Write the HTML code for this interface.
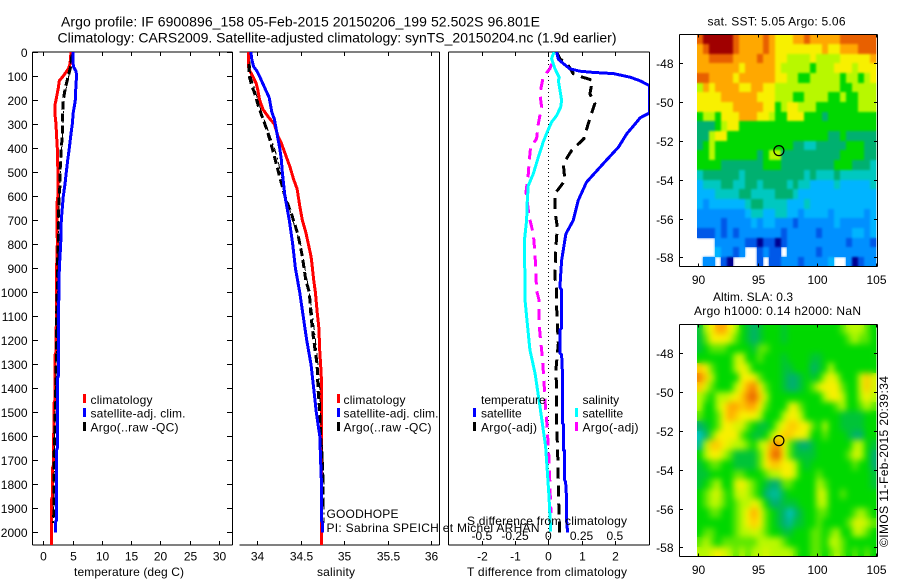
<!DOCTYPE html>
<html lang="en">
<head>
<meta charset="utf-8">
<title>Argo profile chart</title>
<style>
html,body{margin:0;padding:0;background:#fff;width:900px;height:580px;overflow:hidden}
svg{display:block}
text{font-family:"Liberation Sans",sans-serif;font-size:12px;fill:#000}
.title{font-size:14px}
</style>
</head>
<body>
<svg id="chart" xmlns="http://www.w3.org/2000/svg" width="900" height="580" viewBox="0 0 900 580">
<defs>
<clipPath id="clip-temp"><rect x="33" y="52" width="199" height="493"/></clipPath>
<clipPath id="clip-sal"><rect x="240" y="52" width="199" height="493"/></clipPath>
<clipPath id="clip-diff"><rect x="449" y="52" width="200" height="493"/></clipPath>
<filter id="smooth-sla" filterUnits="userSpaceOnUse" x="697" y="325" width="180" height="232" color-interpolation-filters="sRGB">
<feGaussianBlur in="SourceGraphic" stdDeviation="3.2" result="soft"/>
<feMerge><feMergeNode in="SourceGraphic"/><feMergeNode in="soft"/></feMerge>
</filter>
<filter id="smooth-sst" filterUnits="userSpaceOnUse" x="697" y="35" width="180" height="232" color-interpolation-filters="sRGB">
<feGaussianBlur in="SourceGraphic" stdDeviation="1" result="soft"/>
<feMerge><feMergeNode in="SourceGraphic"/><feMergeNode in="soft"/></feMerge>
</filter>
</defs>
<g id="map-sst" filter="url(#smooth-sst)"></g>
<g id="map-sla" filter="url(#smooth-sla)"></g>
<g id="axes"></g>
<g id="series-temp" clip-path="url(#clip-temp)"></g>
<g id="series-sal" clip-path="url(#clip-sal)"></g>
<g id="series-diff" clip-path="url(#clip-diff)"></g>
<g id="labels"></g>

<text class="title" x="61" y="26.5" textLength="479" lengthAdjust="spacing">Argo profile: IF 6900896_158 05-Feb-2015 20150206_199 52.502S 96.801E</text>
<text class="title" x="57.5" y="42.5" textLength="559" lengthAdjust="spacing">Climatology: CARS2009. Satellite-adjusted climatology: synTS_20150204.nc (1.9d earlier)</text>

<text x="74" y="576" textLength="110">temperature (deg C)</text>
<text x="317" y="576" textLength="38">salinity</text>
<text x="467" y="576" textLength="160">T difference from climatology</text>
<text x="467" y="525" textLength="160">S difference from climatology</text>

<g>
<rect x="83" y="394" width="3" height="9" fill="#f00"/><text x="90.5" y="404" textLength="62">climatology</text>
<rect x="83" y="408" width="3" height="9" fill="#00f"/><text x="90.5" y="417.5" textLength="95">satellite-adj. clim.</text>
<rect x="83" y="422" width="3" height="9" fill="#000"/><text x="90.5" y="431.5" textLength="88">Argo(..raw -QC)</text>
</g>
<g>
<rect x="337" y="394" width="3" height="9" fill="#f00"/><text x="343.5" y="404" textLength="62">climatology</text>
<rect x="337" y="408" width="3" height="9" fill="#00f"/><text x="343.5" y="417.5" textLength="95">satellite-adj. clim.</text>
<rect x="337" y="422" width="3" height="9" fill="#000"/><text x="343.5" y="431.5" textLength="88">Argo(..raw -QC)</text>
</g>
<g>
<text x="481" y="404">temperature</text>
<rect x="473" y="408" width="3" height="9" fill="#00f"/><text x="481" y="417.5">satellite</text>
<rect x="473" y="422" width="3" height="9" fill="#000"/><text x="481" y="431.5" textLength="56">Argo(-adj)</text>
<text x="582.5" y="404">salinity</text>
<rect x="575" y="408" width="3" height="9" fill="#0ff"/><text x="582.5" y="417.5">satellite</text>
<rect x="575" y="422" width="3" height="9" fill="#f0f"/><text x="582.5" y="431.5" textLength="56">Argo(-adj)</text>
</g>

<text x="326.5" y="518" textLength="72">GOODHOPE</text>
<text x="326.5" y="532" textLength="213">PI: Sabrina SPEICH et Michel ARHAN</text>

<text x="707.5" y="25.7" textLength="138">sat. SST: 5.05 Argo: 5.06</text>
<text x="713" y="301" textLength="80">Altim. SLA: 0.3</text>
<text x="694" y="315" textLength="167">Argo h1000: 0.14 h2000: NaN</text>
<text transform="translate(888,547) rotate(-90)" textLength="171">©IMOS 11-Feb-2015 20:39:34</text>
</svg>

<script>
// ---- Profile data (depth in dbar) ----
const climTempDepth = [0,50,70,80,100,120,150,200,220,260,300,350,400,500,600,630,800,900,1000,1250,1260,1450,1460,1720,1730,1850,1860,2052];
const climTempValue = [4.73,4.56,4.27,3.99,3.41,2.73,2.56,2.17,2.0,2.0,2.17,2.27,2.39,2.5,2.5,2.34,2.39,2.27,2.27,2.17,2.0,2.0,1.83,1.75,1.6,1.6,1.43,1.43];
const satTempDepth = [0,60,80,100,130,200,220,250,300,340,400,450,500,550,600,650,700,800,900,1000,1100,1350,1360,1650,1660,1950,1960,2000];
const satTempValue = [5.07,5.13,5.58,5.7,5.58,5.46,5.35,5.13,4.95,4.73,4.44,4.16,3.93,3.7,3.41,3.24,3.08,2.97,2.73,2.68,2.56,2.56,2.39,2.39,2.22,2.22,2.05,2.05];
const argoTempDepth = [10,60,100,150,200,250,300,350,400,450,500,550,600,700,800,900,1000,1100,1300,1500,1700,1900,1960];
const argoTempValue = [4.9,4.67,4.27,3.76,3.41,3.3,3.3,3.24,3.08,2.97,2.85,2.85,2.73,2.56,2.56,2.39,2.39,2.27,2.22,2.05,1.83,1.83,1.75];
const rawTempDepth = [20,100,200,300,400,500,600,700,800,1000,1200,1400,1600,1800,1960];
const rawTempValue = [4.8,4.35,3.5,3.4,3.15,2.9,2.75,2.6,2.55,2.4,2.25,2.1,1.95,1.85,1.75];

const climSalDepth = [0,60,80,100,130,160,200,240,270,300,350,380,420,480,530,570,640,700,750,800,850,880,950,1000,1080,1150,1250,1300,1370,1800,2052];
const climSalValue = [33.90,33.90,33.92,33.95,33.99,34.01,34.03,34.07,34.13,34.20,34.24,34.28,34.32,34.38,34.42,34.46,34.49,34.52,34.56,34.59,34.62,34.63,34.65,34.67,34.69,34.71,34.72,34.73,34.74,34.74,34.74];
const satSalDepth = [0,30,60,80,110,150,190,250,280,340,400,450,500,600,700,800,900,1000,1100,1200,1300,1400,1500,1600,1700,1800,1950,1960,2000];
const satSalValue = [33.93,33.94,33.96,34.00,34.04,34.09,34.14,34.17,34.20,34.23,34.26,34.28,34.29,34.32,34.37,34.41,34.44,34.49,34.53,34.57,34.62,34.65,34.68,34.72,34.73,34.74,34.74,34.75,34.75];
const argoSalDepth = [50,100,140,180,230,280,320,380,450,520,600,680,760,850,950,1000,1100,1200,1300,1400,1500,1600,1700,1800,1900];
const argoSalValue = [33.91,33.91,33.94,33.98,34.02,34.07,34.11,34.16,34.21,34.26,34.32,34.40,34.47,34.52,34.56,34.60,34.62,34.65,34.69,34.70,34.72,34.73,34.75,34.76,34.76];
const rawSalDepth = [40,100,150,200,250,300,350,400,450,500,600,700,800,900,1000,1100,1200,1300,1400,1500,1600,1700,1800,1900,1960];
const rawSalValue = [33.92,33.93,33.97,34.01,34.05,34.10,34.15,34.20,34.24,34.27,34.33,34.41,34.50,34.55,34.60,34.64,34.67,34.70,34.72,34.73,34.74,34.76,34.77,34.77,34.77];

const dTsatDepth = [0,30,50,70,80,85,90,105,120,140,254,274,292,340,396,465,542,618,701,757,868,979,991,1150,1157,1254,1260,1350,1545,1550,1657,1660,1782,1790,1860,1950,2000];
const dTsatValue = [0.25,0.30,0.47,0.65,0.95,1.35,1.96,2.46,2.76,3.04,3.04,2.76,2.66,2.36,2.11,1.65,1.15,0.90,0.75,0.53,0.40,0.35,0.40,0.40,0.35,0.35,0.40,0.43,0.43,0.45,0.45,0.49,0.49,0.52,0.55,0.55,0.58];
const dTargoDepth = [0,28,56,90,101,118,174,215,299,361,410,465,535,590,660,729,813,938,993,1060,1130,1213,1324,1407,1545,1657,1782,1865,1948,2000];
const dTargoValue = [0.25,0.35,0.6,0.75,0.95,1.33,1.25,1.40,1.20,1.07,0.70,0.45,0.50,0.20,0.20,0.27,0.23,0.20,0.25,0.25,0.27,0.30,0.23,0.25,0.25,0.28,0.30,0.31,0.33,0.33];
const dSsatDepth = [0,28,69,107,118,160,201,229,264,292,333,375,438,507,556,618,701,785,979,1032,1130,1240,1337,1448,1545,1642,1740,1851,1997];
const dSsatValue = [0.043,0.025,0.05,0.083,0.075,0.088,0.10,0.093,0.063,0.025,-0.008,-0.038,-0.075,-0.113,-0.15,-0.158,-0.163,-0.18,-0.175,-0.175,-0.158,-0.138,-0.10,-0.07,-0.045,-0.02,-0.008,0.005,0.018];
const dSargoDepth = [49,69,104,174,229,299,361,396,451,507,583,688,757,840,924,993,1032,1116,1171,1268,1365,1462,1531,1642,1725,1822,1920];
const dSargoValue = [0.025,0.013,-0.038,-0.063,-0.05,-0.075,-0.088,-0.133,-0.143,-0.15,-0.168,-0.143,-0.113,-0.10,-0.093,-0.088,-0.07,-0.07,-0.063,-0.045,-0.033,-0.023,-0.013,0,0.008,0.013,0.02];

// ---- Tick labels ----
const depthTicks = [0,100,200,300,400,500,600,700,800,900,1000,1100,1200,1300,1400,1500,1600,1700,1800,1900,2000];
const tempTicks = [0,5,10,15,20,25,30];
const salTicks = [34,34.5,35,35.5,36];
const dTTicks = [-2,-1,0,1,2];
const dSTicks = [-0.5,-0.25,0,0.25,0.5];
const lonTicks = [90,95,100,105];
const latTicks = [-48,-50,-52,-54,-56,-58];

// ---- Profile location ----
const argoLon = [96.801];
const argoLat = [-52.502];

// ---- Map values: colour-level per 0.5 degree cell ----
const sstGrid = [
[10,11,11,11,11,11,10,9,9,9,9,10,9,8,8,8,9,9,10,9,9,9,9,9,10,10,10,10,10,10],
[9,10,11,11,11,11,10,9,9,9,9,10,9,8,8,8,8,8,8,8,8,9,8,8,9,9,9,10,10,10],
[9,9,10,10,10,10,9,9,9,9,10,9,9,8,8,7,7,7,7,8,7,7,7,7,8,8,8,8,8,9],
[9,9,9,9,9,9,9,8,9,9,9,9,9,8,7,7,7,7,7,6,7,7,7,8,8,8,7,8,8,8],
[10,10,9,9,9,9,8,9,9,9,9,9,9,8,8,7,7,6,6,7,7,7,7,7,6,7,7,6,7,8],
[7,9,8,9,9,9,9,8,8,9,9,8,8,7,7,7,7,7,7,7,7,7,7,7,6,6,7,7,7,7],
[8,8,8,8,9,9,9,9,9,9,8,8,8,7,7,7,6,6,7,7,7,7,6,6,7,6,6,7,7,7],
[8,8,8,8,8,8,9,9,9,9,9,8,8,6,7,8,8,7,7,7,6,6,6,6,6,6,6,7,7,7],
[6,7,7,6,8,8,8,9,9,9,8,8,7,6,6,8,8,8,6,6,6,5,6,6,6,6,6,6,6,6],
[5,5,5,6,7,8,8,6,6,6,6,6,6,6,6,6,6,6,6,6,6,6,6,6,6,6,6,6,6,6],
[5,5,7,8,8,6,6,6,6,6,6,6,6,6,6,6,6,6,6,6,6,6,5,5,6,5,5,5,5,5],
[5,6,7,6,6,6,6,6,6,6,6,6,6,6,6,6,5,5,4,4,5,5,5,5,5,6,6,6,5,5],
[6,6,7,6,6,6,6,6,6,6,5,6,7,7,5,5,5,5,5,5,5,5,5,5,6,6,6,6,5,5],
[6,6,6,6,5,5,5,5,5,5,5,6,6,6,5,5,5,5,5,5,5,5,5,6,6,6,5,5,5,4],
[4,5,5,5,5,5,5,4,5,5,5,5,5,5,5,5,5,5,4,5,4,4,4,5,4,4,4,4,4,4],
[3,4,4,4,5,5,4,4,5,5,4,5,5,5,5,4,5,4,4,3,3,3,3,4,3,3,3,3,3,4],
[3,3,3,4,4,4,4,5,5,4,4,4,4,5,5,5,4,3,3,3,3,3,3,3,3,3,3,3,3,3],
[3,2,3,3,3,3,3,3,4,5,5,4,4,4,4,3,3,3,4,3,3,3,3,3,3,3,3,3,3,3],
[2,2,2,2,2,2,2,2,3,4,4,3,3,4,4,3,3,2,3,3,3,3,2,3,3,3,3,3,2,3],
[2,2,2,2,1,2,2,2,2,3,2,3,3,2,2,2,1,2,2,2,2,2,2,3,2,2,2,2,2,3],
[1,1,1,2,1,2,1,2,2,2,2,2,2,2,1,2,2,2,2,2,1,2,2,2,2,2,3,3,2,3],
[null,null,null,2,2,2,2,2,1,1,0,1,1,0,1,2,2,2,2,2,2,2,2,2,2,1,2,2,2,1],
[null,null,null,3,2,2,1,2,null,null,1,2,1,1,null,2,2,2,2,2,1,2,2,2,2,2,2,2,2,2],
[null,2,2,null,1,0,null,null,null,null,1,null,1,1,2,2,2,1,2,2,2,2,3,null,null,2,0,1,2,2]
];
const slaGrid = [
[5.5,7,8,9,9,8,7,6,5.5,5,5.5,6,6,6,5.5,6,6,6,6,6,6,6,6,6,6.5,7,7,7,6.5,6],
[5.5,6.5,8,8,8,7.5,6.5,6,5.5,5,5.5,6,6,6,5.5,6,6,6,6,6,6,6,6,6,6,6.5,7,6.5,6.5,6],
[5.5,6,6.5,6.5,6.5,6,6,6,6,5.5,6.5,6.5,6,6,6,6,6,6,6,6,6,6,6,6,6,6,6,6,6,6],
[6,6,6,6,6,6,7,7.5,6,6,6.5,6,6,6,5.5,6,6,6,6,5.5,5.5,6,6,6,6,6,6,6,6,6],
[8.5,8,6.5,6,6,6,7,8,7,6,6,6,6,6,5.5,5.5,6,6,6,5,5.5,6,7,6,6,6,6,6,6,6],
[9.5,8.5,7,6,6,6,6,8,8,8,6.5,6,6,6,5.5,5,5,5.5,6,5.5,6,7,8,7,6,6,6,7.5,8.5,7.5],
[8.5,7.5,6.5,6,6,6,7,8,9,9.5,8,6.5,6,6,5.5,5,5,5.5,6,6.5,7.5,8,8,8,6.5,6,6,7.5,8.5,7.5],
[7,6.5,6,7,7,7.5,8,8.5,9.5,10,8.5,7,6,6,6,6,6,6,6,6,6,7,8,8,7,6,6,7,8,7],
[7,6,6,7,8,9,9,8.5,9,9,8,6.5,6,6,6,7.5,8,6.5,6,6,6,6,6,6.5,7,6,6,6.5,7,6.5],
[6.5,6,6,6.5,8,9,8.5,8,8,8,7,6,6,6,7,8,8,7,6,6,6,6,6,6,5.5,5.5,5.5,5.5,6,6],
[5,5.5,6,6.5,8,8,7.5,7.5,6.5,6,5.5,5.5,6,7,8,8.5,8.5,8,8,6.5,6,7,6,6,5.5,5.5,5.5,5.5,6,6],
[4,5,6.5,8,8,8,8,6.5,6,5.5,5.5,6,7,8,8.5,8.5,8,8,7.5,6,6,6.5,6,6,6,5.5,5,5,6,6],
[4.5,7,8.5,8.5,8,7.5,7,7,6.5,6,7,7.5,9,9.5,8,6.5,5.5,5,5,5.5,6,6,6,6,6,6,7,7,6,5.5],
[6,7,8,8,7,6.5,5.5,5.5,5.5,5.5,6.5,8,9.5,10,8,6.5,5.5,5.5,5.5,5.5,6,6,6,6,6,6.5,7.5,7,6,5],
[5.5,6,6.5,6.5,6,6,5.5,5.5,5.5,5.5,6.5,8,8.5,8.5,8,8,7,6,5.5,6,6,6,6,6,6,6,6.5,6,6,5],
[5.5,5.5,6,6,6,6,6.5,6.5,6,6,6,6.5,7,7,8,8,7,6,6,6,6.5,6,6,6,6,6,6,6,6,5.5],
[5.5,6,6.5,7,6,6,7.5,8,7,6.5,6,5.5,5,5,6.5,6.5,6,6,6,6,7,6.5,6,6,6,6,6,6,6,5.5],
[6,6.5,7,7.5,6.5,6,7,7.5,7,6.5,6,5,4.5,4.5,5.5,6,6,6,6,6,7.5,7,6,6,6.5,6,6,6,6,6],
[6,6.5,7,7,6.5,6,6.5,7,7,8,7,6,5,5,5.5,5.5,5.5,6,6,6,7,7,6,6,6,6,6,6,6,6],
[6,6,6.5,6.5,6,6,6.5,7,8,9,8,6.5,6,5.5,5,4,5,5.5,6,6,6.5,6.5,6,6,6,6,6.5,7,6.5,6],
[6,6,6,6,6,6,6.5,7,8,8.5,8,6.5,6,5.5,5,4.5,5.5,5.5,6,6,6.5,6,6,6,6,6.5,7.5,7.5,7,6.5],
[6,6.5,6.5,6,6,6,6.5,7,7,7.5,7,6.5,6,6,5.5,5.5,6,6,6,6.5,6.5,6,6.5,7,6,6,7,7,6.5,6],
[6.5,7,6.5,6,6.5,6.5,6.5,6.5,6.5,6.5,7,7,7,7,6.5,6,6,6,6,6.5,6.5,6,7,7,6.5,6,6,6,6,6],
[7,7,7.5,8,7.5,7,6.5,7,6.5,7,7,7.5,7,7,7,7,6.5,6,6,6.5,6.5,6,6.5,7,6.5,6,6.5,6,6.5,6]
];
const mapPalette = ['#000090','#0058e8','#0090ff','#00b4ff','#00c8c0','#00b070','#00d800','#b8f800','#f8f000','#ffa800','#e86000','#a00000'];

// ---- Axis functions ----
const NS = 'http://www.w3.org/2000/svg';
const depthY = d => 52 + 0.2402 * d;
const tempX = t => 43.3 + 5.857 * t;
const salX = s => 257 + 87.17 * (s - 34);
const dTX = v => 548.3 + 33.25 * v;
const dSX = v => 548.3 + 133 * v;
const lonX = lon => 698.3 + 11.85 * (lon - 90);
const sstLatY = lat => 63.3 + 19.4 * (-48 - lat);
const slaLatY = lat => 353.3 + 19.4 * (-48 - lat);

function make(tag, parent) {
  const node = document.createElementNS(NS, tag);
  document.getElementById(parent).appendChild(node);
  return node;
}
function mix(a, b, f) {
  const pa = parseInt(a.slice(1), 16), pb = parseInt(b.slice(1), 16);
  const ch = s => Math.round(((pa >> s) & 255) * (1 - f) + ((pb >> s) & 255) * f);
  return 'rgb(' + ch(16) + ',' + ch(8) + ',' + ch(0) + ')';
}
function colorOf(v) {
  const lo = Math.max(0, Math.min(mapPalette.length - 1, Math.floor(v)));
  const hi = Math.min(mapPalette.length - 1, lo + 1);
  return mix(mapPalette[lo], mapPalette[hi], v - lo);
}
function drawProfile(parent, name, depths, values, xFn, color, width, dash) {
  const line = make('polyline', parent);
  
  
  line.setAttribute('points', depths.map((d, i) => xFn(values[i]).toFixed(1) + ',' + depthY(d).toFixed(1)).join(' '));
  line.setAttribute('fill', 'none');
  line.setAttribute('stroke', color);
  line.setAttribute('stroke-width', width);
  line.setAttribute('shape-rendering', 'crispEdges');
  if (dash) line.setAttribute('stroke-dasharray', dash);
}
function axisLine(x1, y1, x2, y2) {
  const l = make('line', 'axes');
  
  
  l.setAttribute('x1', x1);
  l.setAttribute('y1', y1);
  l.setAttribute('x2', x2);
  l.setAttribute('y2', y2);
  l.setAttribute('stroke', '#000');
  l.setAttribute('stroke-width', 1);
  l.setAttribute('shape-rendering', 'crispEdges');
}
function tickLabel(x, y, str, anchor) {
  const t = make('text', 'labels');
  
  
  t.setAttribute('x', x);
  t.setAttribute('y', y);
  t.setAttribute('text-anchor', anchor);
  t.textContent = str;
}
function drawMap(parent, grid, latFn) {
  grid.forEach((row, j) => row.forEach((v, i) => {
    if (v === null) return;
    const lonL = 89.87 + i * 0.505, latT = -46.505 - j * 0.499;
    const x0 = Math.round(lonX(lonL)), x1 = Math.round(lonX(lonL + 0.505));
    const y0 = Math.round(latFn(latT)), y1 = Math.round(latFn(latT - 0.499));
    const c = make('rect', parent);
    
    
    c.setAttribute('x', x0);
    c.setAttribute('y', y0);
    c.setAttribute('width', x1 - x0);
    c.setAttribute('height', y1 - y0);
    c.setAttribute('fill', colorOf(v));
    c.setAttribute('shape-rendering', 'crispEdges');
  }));
}

// ---- Maps ----
drawMap('map-sst', sstGrid, sstLatY);
drawMap('map-sla', slaGrid, slaLatY);

// ---- Profile frames ----
const T = 52, B = 545;
[[32.5, 232.5], [448.5, 649.5]].forEach(f => {
  axisLine(f[0], T, f[1], T);
  axisLine(f[0], B, f[1], B);
  axisLine(f[0], T, f[0], B);
  axisLine(f[1], T, f[1], B);
});
axisLine(239.5, T, 439.5, T);
axisLine(239.5, B, 439.5, B);
axisLine(439.5, T, 439.5, B);

depthTicks.forEach(d => {
  const y = Math.round(depthY(d)) + 0.5;
  axisLine(32.5, y, 38, y);
  axisLine(227, y, 232.5, y);
  tickLabel(27.5, y + 4.5, String(d), 'end');
});
tempTicks.forEach(t => {
  const x = Math.round(tempX(t)) + 0.5;
  axisLine(x, T, x, T + 4);
  axisLine(x, B - 4, x, B);
  tickLabel(x, 560.7, String(t), 'middle');
});
salTicks.forEach(s => {
  const x = Math.round(salX(s)) + 0.5;
  axisLine(x, T, x, T + 4);
  axisLine(x, B - 4, x, B);
  tickLabel(x, 560.7, String(s), 'middle');
});
dTTicks.forEach(v => {
  const x = Math.round(dTX(v)) + 0.5;
  axisLine(x, T, x, T + 4);
  axisLine(x, B - 4, x, B);
  tickLabel(x, 560.7, String(v), 'middle');
});
dSTicks.forEach(v => {
  tickLabel(dSX(v), 540, String(v), 'middle');
});

// zero line in difference panel
const zero = make('line', 'series-diff');


zero.setAttribute('x1', dTX(0));
zero.setAttribute('x2', dTX(0));
zero.setAttribute('y1', T);
zero.setAttribute('y2', B);
zero.setAttribute('stroke', '#000');
zero.setAttribute('stroke-dasharray', '1 3');
zero.setAttribute('shape-rendering', 'crispEdges');

// ---- Profile series ----
drawProfile('series-temp', 'temperature-climatology-line', climTempDepth, climTempValue, tempX, '#f00', 3);
drawProfile('series-temp', 'temperature-argo-qc-line', argoTempDepth, argoTempValue, tempX, '#000', 3, '8 4');
drawProfile('series-temp', 'temperature-argo-raw-line', rawTempDepth, rawTempValue, tempX, '#000', 1, '7 3 2 3');
drawProfile('series-temp', 'temperature-satellite-line', satTempDepth, satTempValue, tempX, '#00f', 3);

drawProfile('series-sal', 'salinity-climatology-line', climSalDepth, climSalValue, salX, '#f00', 3);
drawProfile('series-sal', 'salinity-argo-qc-line', argoSalDepth, argoSalValue, salX, '#000', 3, '8 4');
drawProfile('series-sal', 'salinity-argo-raw-line', rawSalDepth, rawSalValue, salX, '#000', 1, '7 3 2 3');
drawProfile('series-sal', 'salinity-satellite-line', satSalDepth, satSalValue, salX, '#00f', 3);

drawProfile('series-diff', 'salinity-argo-difference-line', dSargoDepth, dSargoValue, dSX, '#f0f', 3, '11 7');
drawProfile('series-diff', 'temperature-argo-difference-line', dTargoDepth, dTargoValue, dTX, '#000', 3, '11 7');
drawProfile('series-diff', 'temperature-satellite-difference-line', dTsatDepth, dTsatValue, dTX, '#00f', 3);
drawProfile('series-diff', 'salinity-satellite-difference-line', dSsatDepth, dSsatValue, dSX, '#0ff', 3);

// ---- Map frames and location markers ----
[[34.5, 266.5, sstLatY, 284], [324.5, 556.5, slaLatY, 574]].forEach(m => {
  const top = m[0], bot = m[1], latFn = m[2], labelY = m[3];
  axisLine(679.5, top, 877.5, top);
  axisLine(679.5, bot, 877.5, bot);
  axisLine(679.5, top, 679.5, bot);
  axisLine(877.5, top, 877.5, bot);
  lonTicks.forEach(lon => {
    const x = Math.round(lonX(lon)) + 0.5;
    axisLine(x, top, x, top + 3);
    axisLine(x, bot - 3, x, bot);
    tickLabel(x, labelY, String(lon), 'middle');
  });
  latTicks.forEach(lat => {
    const y = Math.round(latFn(lat)) + 0.5;
    axisLine(679.5, y, 683, y);
    axisLine(874, y, 877.5, y);
    tickLabel(673.5, y + 4.5, String(lat), 'end');
  });
  const mark = make('circle', 'axes');
  
  
  mark.setAttribute('cx', lonX(argoLon[0]));
  mark.setAttribute('cy', latFn(argoLat[0]));
  mark.setAttribute('r', 5);
  mark.setAttribute('fill', 'none');
  mark.setAttribute('stroke', '#000');
  mark.setAttribute('stroke-width', 1.2);
});
</script>
</body>
</html>
